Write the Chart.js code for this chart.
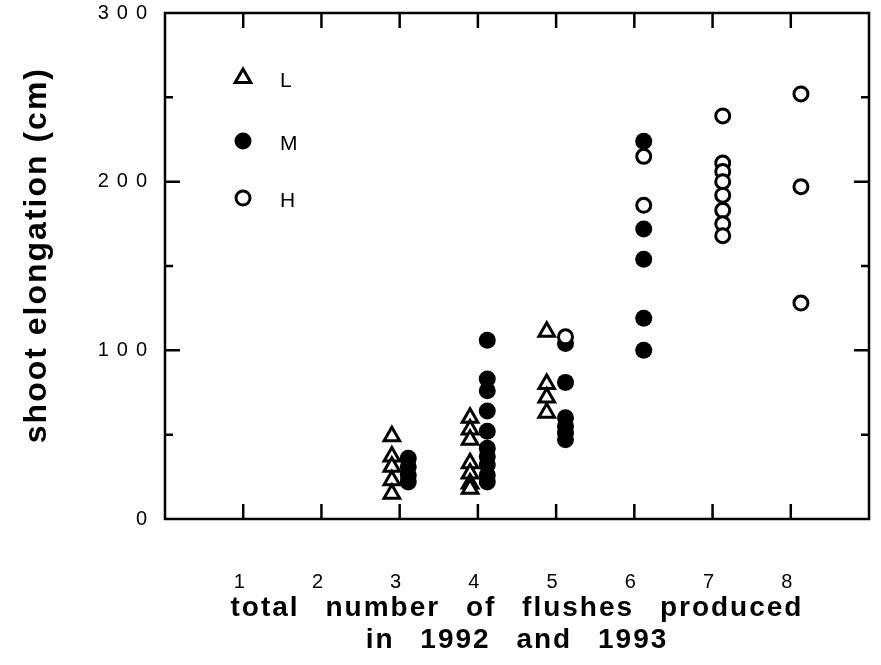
<!DOCTYPE html>
<html>
<head>
<meta charset="utf-8">
<script src="https://cdn.jsdelivr.net/npm/chart.js@4.4.1/dist/chart.umd.min.js"></script>
<style>
    body { margin: 0; background: #fff; }
    canvas { display: block; }
</style>
</head>
<body>
<canvas id="flushChartElem" width="881" height="665"></canvas>
<script>
// Values. L points sit a bit left of each flush count, M and H a bit right.
const lowFlushes = [2.9, 2.9, 2.9, 2.9, 2.9, 3.9, 3.9, 3.9, 3.9, 3.9, 3.9, 3.9, 4.88, 4.88, 4.88, 4.88];
const lowElongation = [49, 37, 31, 23, 15, 60, 53, 47, 33, 27, 21, 18, 111, 80, 72, 63];

const midFlushes = [3.11, 3.11, 3.11, 3.11, 4.12, 4.12, 4.12, 4.12, 4.12, 4.12, 4.12, 4.12, 4.12, 4.12, 5.12, 5.12, 5.12, 5.12, 5.12, 5.12, 6.12, 6.12, 6.12, 6.12, 6.12];
const midElongation = [36, 31, 26, 22, 106, 83, 76, 64, 52, 42, 37, 32, 26, 22, 104, 81, 60, 55, 51, 47, 224, 172, 154, 119, 100];

const highFlushes = [5.12, 6.12, 6.12, 7.13, 7.13, 7.13, 7.13, 7.13, 7.13, 7.13, 7.13, 8.13, 8.13, 8.13];
const highElongation = [108, 215, 186, 239, 211, 206, 200, 192, 183, 175, 168, 252, 197, 128];

const xTickLabels = [1, 2, 3, 4, 5, 6, 7, 8];
const yTickLabels = [0, 100, 200, 300];

const fontFamily = "'Liberation Sans', Arial, Helvetica, sans-serif";

const toPoints = (xs, ys) => xs.map((x, i) => ({ x: x, y: ys[i] }));


// letter spacing: titles get a little, tick labels (drawn after the datasets) get more
const spacingPlugin = {
    id: 'spacing',
    beforeDraw(chart) {
        chart.ctx.letterSpacing = '2px';
        chart.ctx.wordSpacing = '16px';
    },
    afterDatasetsDraw(chart) {
        chart.ctx.letterSpacing = '8px';
        chart.ctx.wordSpacing = '0px';
    }
};

// closed frame with inward tick marks on all four sides
const framePlugin = {
    id: 'frame',
    beforeDatasetsDraw(chart) {
        const { ctx, chartArea: { left, right, top, bottom }, scales: { x, y } } = chart;
        ctx.save();
        ctx.strokeStyle = '#000';
        ctx.lineWidth = 2.5;
        ctx.strokeRect(left, top, right - left, bottom - top);
        ctx.beginPath();
        for (let v = 50; v < 300; v += 50) {
            const py = y.getPixelForValue(v);
            const len = v % 100 === 0 ? 15 : 8;
            ctx.moveTo(left, py);
            ctx.lineTo(left + len, py);
            ctx.moveTo(right, py);
            ctx.lineTo(right - len, py);
        }
        xTickLabels.forEach((v) => {
            const px = x.getPixelForValue(v);
            ctx.moveTo(px, bottom);
            ctx.lineTo(px, bottom - 15);
            ctx.moveTo(px, top);
            ctx.lineTo(px, top + 15);
        });
        ctx.stroke();
        ctx.restore();
    }
};

// legend in the upper left of the plot
const legendPlugin = {
    id: 'innerLegend',
    afterDraw(chart) {
        const { ctx, chartArea: { left, top } } = chart;
        const rows = [65, 128, 185];
        ctx.save();
        ctx.letterSpacing = '0px';
        chart.data.datasets.forEach((ds, i) => {
            const cx = left + 78;
            const cy = top + rows[i];
            ctx.beginPath();
            if (ds.pointStyle === 'triangle') {
                const r = ds.pointRadius;
                for (let k = 0; k < 3; k++) {
                    const a = k * 2 * Math.PI / 3;
                    const px = cx + Math.sin(a) * r;
                    const py = cy - Math.cos(a) * r;
                    if (k === 0) ctx.moveTo(px, py); else ctx.lineTo(px, py);
                }
                ctx.closePath();
            } else {
                ctx.arc(cx, cy, ds.pointRadius, 0, Math.PI * 2);
            }
            ctx.fillStyle = ds.pointBackgroundColor;
            ctx.fill();
            if (ds.pointBorderWidth > 0) {
                ctx.lineWidth = ds.pointBorderWidth;
                ctx.strokeStyle = ds.pointBorderColor;
                ctx.stroke();
            }
            ctx.fillStyle = '#000';
            ctx.font = `21px ${fontFamily}`;
            ctx.textBaseline = 'middle';
            ctx.fillText(ds.label, left + 115, cy + 3);
        });
        ctx.restore();
    }
};


const flushChartElem = document.getElementById('flushChartElem');
const flushChart = new Chart(flushChartElem, {
    type: 'scatter',
    data: {
        datasets: [{
            label: 'L',
            data: toPoints(lowFlushes, lowElongation),
            pointStyle: 'triangle',
            pointRadius: 9,
            pointBorderWidth: 3,
            pointBackgroundColor: '#fff',
            pointBorderColor: '#000',
            order: 0
        }, {
            label: 'M',
            data: toPoints(midFlushes, midElongation),
            pointStyle: 'circle',
            pointRadius: 8.5,
            pointBorderWidth: 0,
            pointBackgroundColor: '#000',
            pointBorderColor: '#000',
            order: 2
        }, {
            label: 'H',
            data: toPoints(highFlushes, highElongation),
            pointStyle: 'circle',
            pointRadius: 7,
            pointBorderWidth: 3,
            pointBackgroundColor: '#fff',
            pointBorderColor: '#000',
            order: 1
        }]
    },
    options: {
        responsive: false,
        animation: false,
        layout: {
            padding: { top: 13, right: 4, left: 0, bottom: 0 }
        },
        scales: {
            x: {
                type: 'linear',
                min: 0,
                max: 9,
                grid: { display: false, drawTicks: false },
                border: { display: false },
                afterFit: (scale) => {
                    scale.height = 146;
                    scale.paddingLeft = 0;
                    scale.paddingRight = 0;
                },
                ticks: {
                    stepSize: 1,
                    color: '#000',
                    padding: 51,
                    z: 1,
                    font: { family: fontFamily, size: 20 },
                    callback: (v) => xTickLabels.includes(v) ? String(v) : ''
                },
                title: {
                    display: true,
                    text: ['total number of flushes produced', 'in 1992 and 1993'],
                    color: '#000',
                    font: { family: fontFamily, size: 28, weight: 'bold', lineHeight: 32 / 28 },
                    padding: { top: 0, bottom: 9 }
                }
            },
            y: {
                min: 0,
                max: 300,
                grid: { display: false, drawTicks: false },
                border: { display: false },
                afterFit: (scale) => {
                    scale.width = 165;
                    scale.paddingTop = 0;
                    scale.paddingBottom = 0;
                },
                ticks: {
                    stepSize: 100,
                    color: '#000',
                    padding: 10,
                    z: 1,
                    font: { family: fontFamily, size: 20 },
                    callback: (v) => yTickLabels.includes(v) ? String(v) : ''
                },
                title: {
                    display: true,
                    text: '  shoot elongation (cm)',
                    color: '#000',
                    font: { family: fontFamily, size: 32, weight: 'bold' },
                    padding: { top: 18, bottom: 0 }
                }
            }
        },
        plugins: {
            legend: { display: false },
            tooltip: { enabled: false }
        }
    },
    plugins: [spacingPlugin, framePlugin, legendPlugin]
});
</script>
</body>
</html>
